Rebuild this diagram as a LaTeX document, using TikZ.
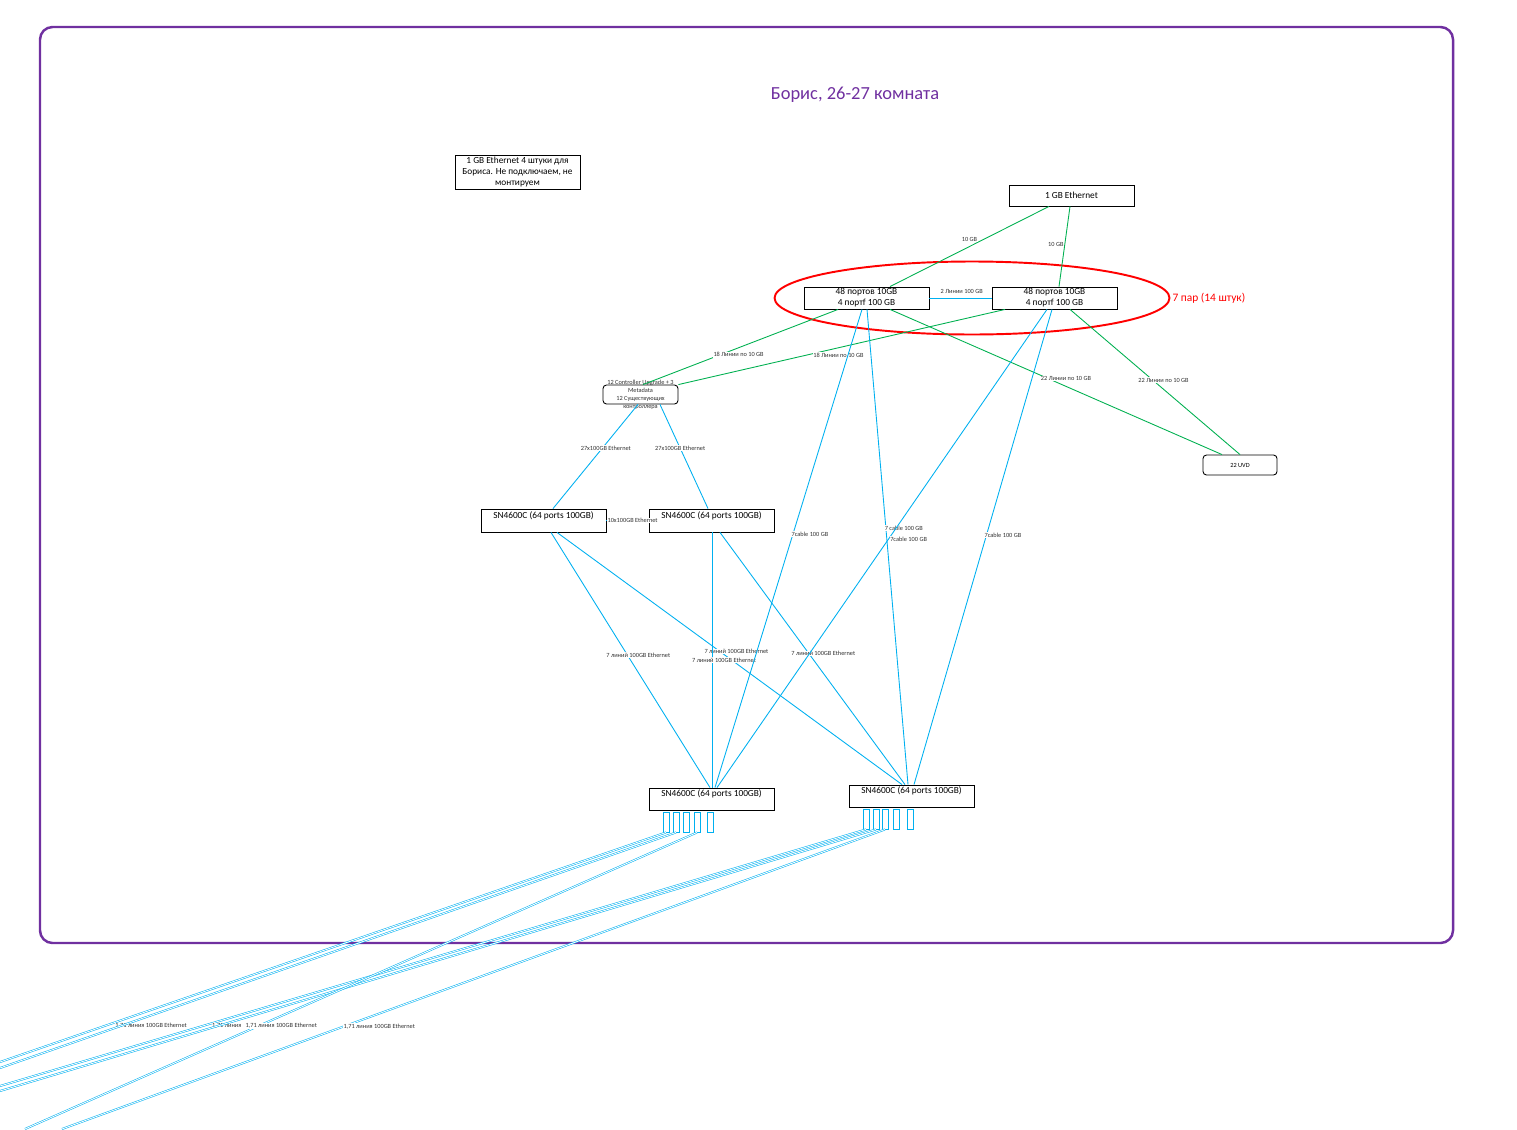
\documentclass[tikz,border=0pt]{standalone}
\usepackage{fontspec}
\setmainfont{Carlito}
\usetikzlibrary{shapes.geometric, positioning, calc}
\definecolor{lancyan}{RGB}{0,176,240}
\definecolor{gbgreen}{RGB}{0,176,80}
\definecolor{roompurple}{RGB}{112,48,160}
\tikzset{
  box/.style={rectangle, draw, fill=white, line width=0.5pt, minimum width=2.5cm, minimum height=0.44cm, align=center, inner sep=0.5pt, font=\fontsize{5.3pt}{6.2pt}\selectfont},
  rbox/.style={box, rounded corners=2pt},
  snbox/.style={box, text height=3.8pt, text depth=6.4pt},
  port/.style={rectangle, draw=lancyan, line width=0.5pt, minimum width=0.12cm, minimum height=0.4cm, inner sep=0pt},
  lbl/.style={fill=white, inner sep=0.4pt, text=black!80, font=\fontsize{3.6pt}{4.3pt}\selectfont},
  gbe/.style={draw=gbgreen, line width=0.5pt},
  lan/.style={draw=lancyan, line width=0.5pt},
  trunk/.style={draw=lancyan, line width=0.3pt, double=white, double distance=0.5pt},
}
\begin{document}
\begin{tikzpicture}[x=0.02cm, y=-0.02cm]
\useasboundingbox (0,0) rectangle (1517,1129);
% room
\draw[roompurple, line width=1.4pt, rounded corners=0.25cm] (40,27) rectangle (1453,943);
\node[text=roompurple, font=\fontsize{10.5pt}{12pt}\selectfont] (title) at (855,95) {Борис, 26-27 комната};

% devices
\node[box, minimum height=0.68cm] (note) at (517.5,172) {1 GB Ethernet 4 штуки для\\Бориса. Не подключаем, не\\монтируем};
\node[box, minimum height=0.42cm] (eth) at (1071.5,195.5) {1 GB Ethernet};
\node[ellipse, draw=red, line width=1.1pt, minimum width=7.9cm, minimum height=1.46cm,
      label={[text=red, font=\fontsize{6.5pt}{7.5pt}\selectfont, inner sep=1pt]right:7 пар (14 штук)}] (pairs) at (972,298) {};
\node[box] (sw1) at (866.5,298) {48 портов 10GB\\4 портf 100 GB};
\node[box] (sw2) at (1054.5,298) {48 портов 10GB\\4 портf 100 GB};
\node[rbox, minimum width=1.5cm, minimum height=0.38cm,
      label={[align=center, text=black!80, font=\fontsize{3.6pt}{4.5pt}\selectfont]center:{12 Controller Upgrade + 3\\Metadata\\12 Существующих\\контроллера}}] (ctrl) at (640.5,394.5) {};
\node[rbox, minimum width=1.48cm, minimum height=0.4cm, font=\fontsize{3.6pt}{4.3pt}\selectfont] (uvd) at (1240,465) {22 UVD};
\node[snbox, minimum height=0.46cm] (sn1) at (543.5,520.5) {SN4600C (64 ports 100GB)};
\node[snbox, minimum height=0.46cm] (sn2) at (711.5,520.5) {SN4600C (64 ports 100GB)};
\node[snbox] (sn3) at (711.5,799) {SN4600C (64 ports 100GB)};
\node[snbox] (sn4) at (911.5,796) {SN4600C (64 ports 100GB)};

% ports
\foreach \i/\x in {1/666,2/676,3/686,4/697,5/710}
  \node[port] (pa\i) at (\x,822) {};
\foreach \i/\x in {1/866,2/876,3/885,4/896,5/910}
  \node[port] (pb\i) at (\x,819) {};

% 1 GB uplinks
\draw[gbe] (1049,0 |- eth.south) -- node[lbl, pos=0.5, yshift=0.15cm] {10 GB} (890,0 |- sw1.north);
\draw[gbe] (1070,0 |- eth.south) -- node[lbl, pos=0.47, xshift=-0.18cm] {10 GB} (1059,0 |- sw2.north);
\draw[lan] (sw1) -- node[lbl, pos=0.52, yshift=0.14cm] {2 Линии 100 GB} (sw2);

% 10 GB
\draw[gbe] (838,0 |- sw1.south) -- node[lbl, pos=0.51, yshift=-0.14cm] {18 Линии по 10 GB} (643,0 |- ctrl.north);
\draw[gbe] (1005,0 |- sw2.south) -- node[lbl, pos=0.51, yshift=-0.15cm] {18 Линии по 10 GB} (ctrl.north east);
\draw[gbe] (890,0 |- sw1.south) -- node[lbl, pos=0.53, yshift=0.16cm] {22 Линии по 10 GB} (1222,0 |- uvd.north);
\draw[gbe] (1070,0 |- sw2.south) -- node[lbl, pos=0.55, yshift=0.18cm] {22 Линии по 10 GB} (uvd.north);

% controller to SN
\draw[lan] (638,0 |- ctrl.south) -- node[lbl, pos=0.42, xshift=0.07cm] {27x100GB Ethernet} (553,0 |- sn1.north);
\draw[lan] (660,0 |- ctrl.south) -- node[lbl, pos=0.42] {27x100GB Ethernet} (708,0 |- sn2.north);
\draw[lan] (sn1) -- node[lbl, pos=0.62] {10x100GB Ethernet} (sn2);

% SN to SN
\draw[lan] (551,0 |- sn1.south) -- node[lbl, pos=0.48, xshift=0.22cm] {7 линий 100GB Ethernet} (710,0 |- sn3.north);
\draw[lan] (557,0 |- sn1.south) -- node[lbl, pos=0.52, yshift=0.24cm] {7 линий 100GB Ethernet} (902,0 |- sn4.north);
\draw[lan] (712,0 |- sn2.south) -- node[lbl, pos=0.5, xshift=0.24cm] {7 линий 100GB Ethernet} (712,0 |- sn3.north);
\draw[lan] (720,0 |- sn2.south) -- node[lbl, pos=0.48, xshift=0.29cm] {7 линий 100GB Ethernet} (905,0 |- sn4.north);

% pairs to SN
\draw[lan] (862,0 |- sw1.south) -- node[lbl, pos=0.47, xshift=0.34cm] {7cable 100 GB} (715,0 |- sn3.north);
\draw[lan] (867,0 |- sw1.south) -- node[lbl, pos=0.46, xshift=0.36cm] {7 cable 100 GB} (908,0 |- sn4.north);
\draw[lan] (1047,0 |- sw2.south) -- node[lbl, pos=0.48, xshift=0.4cm] {7cable 100 GB} (717,0 |- sn3.north);
\draw[lan] (1052,0 |- sw2.south) -- node[lbl, pos=0.475, xshift=0.33cm] {7cable 100 GB} (914,0 |- sn4.north);

% trunks out of the room
\coordinate (outa1) at (0,1062);
\coordinate (outa2) at (0,1068);
\coordinate (outa3) at (25,1129);
\coordinate (outb1) at (0,1086);
\coordinate (outb2) at (0,1091);
\coordinate (outb3) at (62,1129);
\draw[trunk] (pa1.south) -- node[lbl, pos=0.843, xshift=0.93cm] {1,71 линия 100GB Ethernet} (outa1);
\draw[trunk] (pa2.south) -- (outa2);
\draw[trunk] (pb1.south) -- node[lbl, pos=0.767, xshift=0.5cm] {1,71 линия} (outb1);
\draw[trunk] (pb2.south) -- (outb2);
\draw[trunk] (pa4.south) -- node[lbl, pos=0.653, xshift=0.46cm] {1,71 линия 100GB Ethernet} (outa3);
\draw[trunk] (pb3.south) -- node[lbl, pos=0.657, xshift=0.7cm] {1,71 линия 100GB Ethernet} (outb3);
\end{tikzpicture}
\end{document}
